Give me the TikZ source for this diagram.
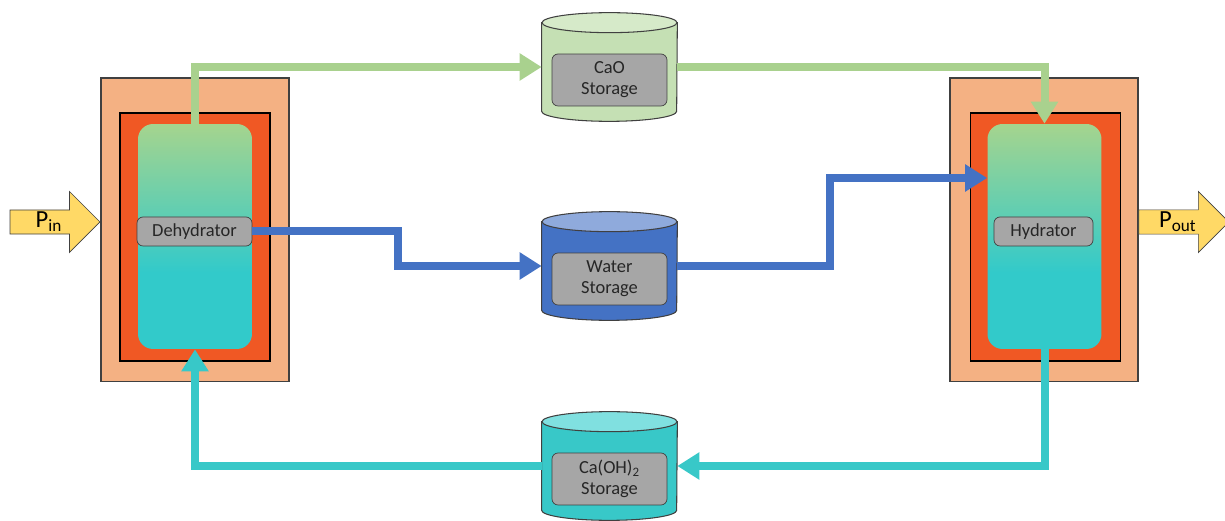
\documentclass[tikz,border=0pt]{standalone}
\usepackage{fontspec}
\setmainfont{Carlito}
\usetikzlibrary{arrows.meta,shapes.arrows,calc}

\definecolor{tesshell}{RGB}{244,177,131}
\definecolor{tesheater}{RGB}{240,88,36}
\definecolor{tesgreen}{RGB}{169,209,142}
\definecolor{tesblue}{RGB}{68,114,196}
\definecolor{testeal}{RGB}{56,200,200}
\definecolor{tesgray}{RGB}{166,166,166}
\definecolor{tesedge}{RGB}{64,64,64}
\definecolor{tespower}{RGB}{255,217,102}
\definecolor{reactgreen}{RGB}{165,212,142}
\definecolor{reactteal}{RGB}{50,202,202}
\definecolor{caobody}{RGB}{197,224,180}
\definecolor{caolid}{RGB}{214,234,201}
\definecolor{waterlid}{RGB}{143,170,220}
\definecolor{caohlid}{RGB}{128,224,224}

\pgfdeclareverticalshading{reactor}{100bp}{color(0bp)=(reactteal); color(42bp)=(reactteal); color(75bp)=(reactgreen); color(100bp)=(reactgreen)}

\tikzset{
  shell/.style={draw=tesedge, fill=tesshell, line width=0.6pt, minimum width=3.76cm, minimum height=6.08cm},
  heater/.style={draw=black, fill=tesheater, line width=0.6pt, minimum width=3cm, minimum height=4.96cm},
  vessel/.style={shade, shading=reactor, rounded corners=0.3cm, minimum width=2.28cm, minimum height=4.5cm},
  namebox/.style={draw=tesedge, fill=tesgray, rounded corners=0.12cm, text=black!85, font=\fontsize{10.5}{12}\selectfont, align=center, inner sep=0pt},
  tank/.style={minimum width=2.7cm, minimum height=2.16cm, inner sep=0pt},
  power/.style={single arrow, draw=tesedge, fill=tespower, minimum height=1.8cm, minimum width=1.22cm, single arrow head extend=0.31cm, inner sep=0pt, font=\fontsize{14}{16}\selectfont},
  flow/.style={line width=0.16cm, -{Triangle[width=0.52cm,length=0.44cm]}},
}

% storage tank: name, centre, body colour, lid colour
\newcommand\tesTank[4]{%
  \node[tank] (#1) at (#2) {};
  \filldraw[fill=#3, draw=tesedge, line width=0.6pt] ($(#1.north west)+(0,-10)$) -- ($(#1.south west)+(0,10)$)
    arc[start angle=180, end angle=360, x radius=67.5, y radius=10] -- ($(#1.north east)+(0,-10)$) -- cycle;
  \filldraw[fill=#4, draw=tesedge, line width=0.6pt] ($(#1.north)+(0,-10)$) ellipse[x radius=67.5, y radius=10];
}

\begin{document}
\begin{tikzpicture}[x=0.02cm, y=0.02cm]
    \useasboundingbox (0,0) rectangle (1225,521);

    % Dehydrator
    \node[shell] (dehyshell) at (195,291) {};
    \node[heater] (dehyheat) at (195,284) {};
    \node[vessel] (dehy) at (195,284.5) {};

    % Hydrator
    \node[shell] (hydshell) at (1044,291) {};
    \node[heater] (hydheat) at (1045.5,284) {};
    \node[vessel] (hyd) at (1044.5,284.5) {};

    % Storage tanks
    \tesTank{cao}{609.5,454}{caobody}{caolid}
    \tesTank{water}{609.5,255}{tesblue}{waterlid}
    \tesTank{caoh}{609.5,55}{testeal}{caohlid}

    % CaO loop
    \draw[flow, tesgreen] (dehy.north) |- (cao.west);
    \draw[flow, tesgreen] (cao.east) -| (hyd.north);

    % Labels
    \node[namebox, minimum width=2.3cm, minimum height=0.58cm] (dehylbl) at (194.5,289.5) {Dehydrator};
    \node[namebox, minimum width=1.98cm, minimum height=0.58cm] (hydlbl) at (1043.5,289.5) {Hydrator};
    \node[namebox, minimum width=2.3cm, minimum height=1.04cm] (caolbl) at ($(cao)+(0,-13)$) {CaO\\Storage};
    \node[namebox, minimum width=2.3cm, minimum height=1.04cm] (waterlbl) at ($(water)+(0,-13)$) {Water\\Storage};
    \node[namebox, minimum width=2.3cm, minimum height=1.04cm] (caohlbl) at ($(caoh)+(0,-13)$) {Ca(OH)\textsubscript{2}\\Storage};

    % Water loop
    \coordinate (hydin) at ($(hyd.west)+(0,58.5)$);
    \draw[flow, tesblue] (dehylbl.east) -- ++(146,0) |- (water.west);
    \draw[flow, tesblue] (water.east) -- ++(153,0) |- (hydin);

    % Ca(OH)2 loop
    \draw[flow, testeal] (hyd.south) |- (caoh.east);
    \draw[flow, testeal] (caoh.west) -| (dehy.south);

    % Power in and out
    \node[power, anchor=tip] (pin) at ($(dehyshell.west)+(0,8)$) {P\textsubscript{in}};
    \node[power, anchor=tail] (pout) at ($(hydshell.east)+(0,8)$) {P\textsubscript{out}};
\end{tikzpicture}
\end{document}
